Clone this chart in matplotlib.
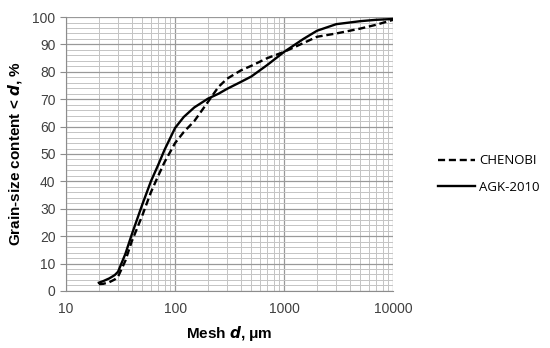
import matplotlib
matplotlib.use("Agg")
import matplotlib.pyplot as plt
from matplotlib.ticker import FixedLocator, NullFormatter, FuncFormatter

mesh_chenobi = [20, 22, 25, 28, 30, 35, 40, 50, 60, 70, 80, 100, 120, 150, 200, 250, 300, 400, 500, 700, 1000, 1500, 2000, 3000, 5000, 7000, 10000]
chenobi = [2.5, 2.6, 3.2, 4.2, 5.2, 11, 18, 27.5, 36, 42, 47, 54, 58, 62, 69, 74.5, 77.5, 80.5, 82.2, 85, 87.3, 90.5, 92.8, 94, 95.8, 97.2, 99]

mesh_agk = [20, 22, 25, 28, 30, 35, 40, 50, 60, 70, 80, 100, 120, 150, 200, 250, 300, 400, 500, 700, 1000, 1500, 2000, 3000, 5000, 7000, 10000]
agk = [3, 3.6, 4.6, 5.8, 7, 13.5, 20.5, 31.5, 40, 46, 51.5, 59.5, 63.5, 67, 70.2, 72, 73.8, 76.3, 78.3, 82.5, 87.3, 92, 95, 97.4, 98.5, 99, 99.3]

x_ticks = [10, 100, 1000, 10000]
y_ticks = list(range(0, 101, 10))

fig = plt.figure(figsize=(5.5, 3.48), dpi=100)
ax = fig.add_axes([0.12, 0.164, 0.595, 0.787])

ax.plot(mesh_chenobi, chenobi, color="black", lw=1.7, ls=(0, (3, 1.6)), label="CHENOBI",
        solid_joinstyle="round")
ax.plot(mesh_agk, agk, color="black", lw=1.7, ls="-", label="AGK-2010", solid_joinstyle="round")

ax.set_xscale("log")
ax.set_xlim(10, 10000)
ax.set_ylim(0, 100)
ax.xaxis.set_major_locator(FixedLocator(x_ticks))
ax.xaxis.set_major_formatter(FuncFormatter(lambda v, p: f"{int(v)}"))
minor_x = [m * 10 ** e for e in range(1, 4) for m in range(2, 10)]
ax.xaxis.set_minor_locator(FixedLocator(minor_x))
ax.xaxis.set_minor_formatter(NullFormatter())
ax.yaxis.set_major_locator(FixedLocator(y_ticks))
ax.yaxis.set_minor_locator(FixedLocator([v for v in range(0, 101, 2) if v % 10]))

ax.grid(which="major", color="#999999", lw=0.9)
ax.grid(which="minor", color="#c4c4c4", lw=0.7)
ax.set_axisbelow(True)

for s in ["top", "right"]:
    ax.spines[s].set_visible(False)
for s in ["left", "bottom"]:
    ax.spines[s].set_color("#8c8c8c")
ax.tick_params(axis="both", which="major", labelsize=10, colors="#8c8c8c", labelcolor="#404040", length=4)
ax.tick_params(axis="x", which="major", length=0, pad=8)
ax.tick_params(which="minor", length=0)
for lab in ax.get_xticklabels() + ax.get_yticklabels():
    lab.set_family("Liberation Sans")

ax.set_xlabel(r"Mesh $\bfit{d}$, μm", fontsize=11, fontweight="bold", family="Liberation Sans", labelpad=6)
ax.set_ylabel(r"Grain-size content < $\bfit{d}$, %", fontsize=11, fontweight="bold", family="Liberation Sans", labelpad=6)

leg = fig.legend(loc="center left", bbox_to_anchor=(0.775, 0.5), frameon=False,
                 prop={"family": "Open Sans", "size": 9.5}, handlelength=2.8, handletextpad=0.3, labelspacing=1.0)

fig.savefig("out.png", dpi=100)
